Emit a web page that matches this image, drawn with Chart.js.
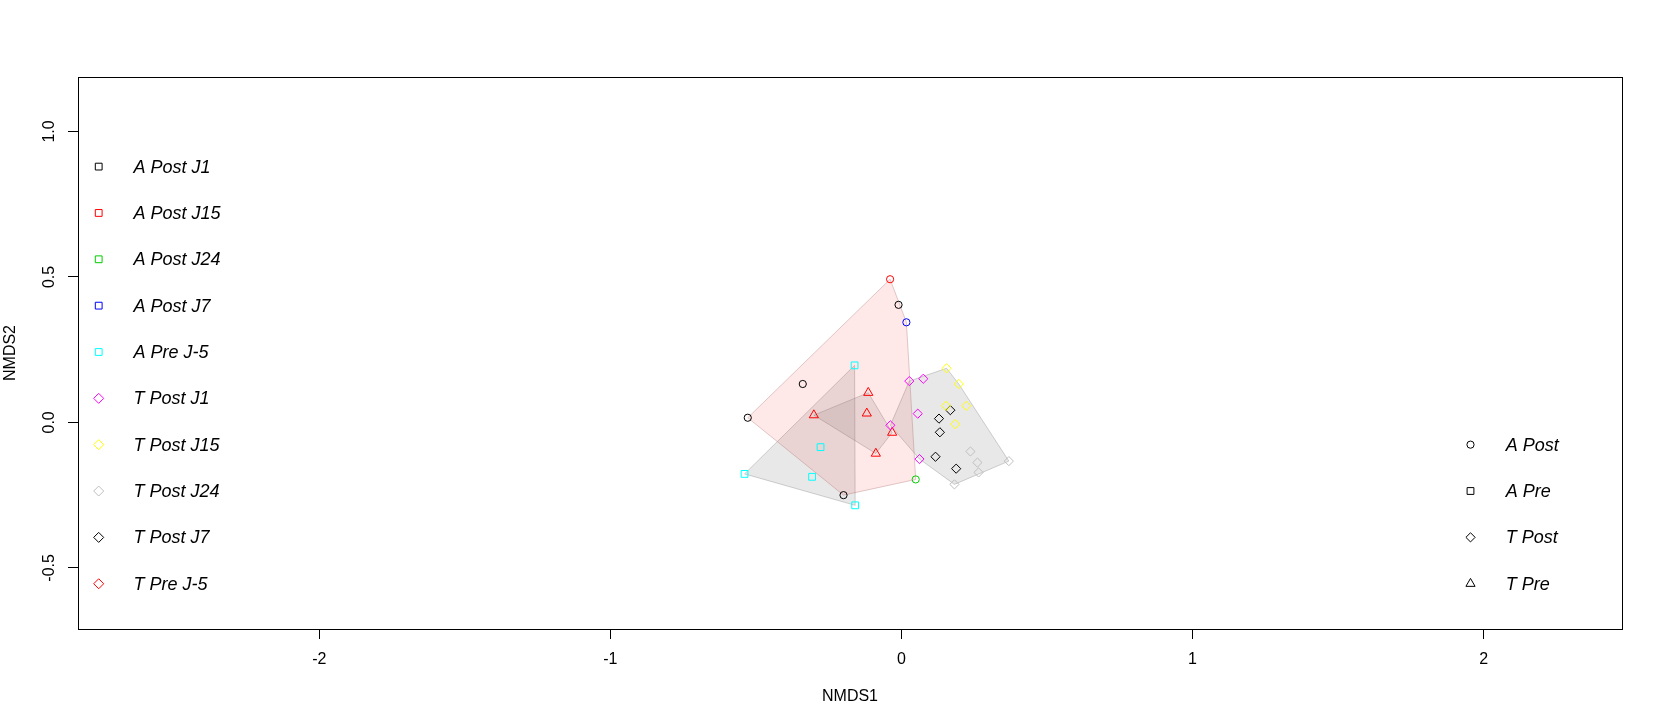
<!DOCTYPE html>
<html>
<head>
<meta charset="utf-8">
<script src="https://cdn.jsdelivr.net/npm/chart.js@4.4.1/dist/chart.umd.min.js"></script>
<style>
  html, body { margin: 0; padding: 0; background: #fff; }
</style>
</head>
<body>
<canvas id="nmdsChart" width="1664" height="728"></canvas>
<script>
// tick labels
const xTicks = [-2, -1, 0, 1, 2];
const yTicks = [-0.5, 0, 0.5, 1];

// A Post (circles)
const aPostJ1 = [[-0.010, 0.404], [-0.339, 0.132], [-0.528, 0.016], [-0.199, -0.250]];
const aPostJ15 = [[-0.039, 0.492]];
const aPostJ7 = [[0.017, 0.344]];
const aPostJ24 = [[0.049, -0.196]];
// A Pre (squares)
const aPreJ5 = [[-0.161, 0.196], [-0.278, -0.085], [-0.539, -0.177], [-0.307, -0.187], [-0.159, -0.285]];
// T Post (diamonds)
const tPostJ1 = [[0.027, 0.142], [0.075, 0.150], [0.056, 0.030], [-0.038, -0.010], [0.062, -0.126]];
const tPostJ15 = [[0.155, 0.186], [0.197, 0.132], [0.153, 0.057], [0.223, 0.057], [0.185, -0.006]];
const tPostJ24 = [[0.237, -0.100], [0.261, -0.138], [0.265, -0.172], [0.369, -0.133], [0.182, -0.213]];
const tPostJ7 = [[0.168, 0.042], [0.129, 0.013], [0.132, -0.034], [0.117, -0.118], [0.188, -0.159]];
// T Pre (triangles)
const tPreJ5 = [[-0.114, 0.102], [-0.301, 0.025], [-0.119, 0.031], [-0.032, -0.035], [-0.088, -0.107]];

const sampleLabels = ['A Post J1', 'A Post J15', 'A Post J24', 'A Post J7', 'A Pre J-5',
                      'T Post J1', 'T Post J15', 'T Post J24', 'T Post J7', 'T Pre J-5'];
const sampleColors = ['#000000', '#FF0000', '#00CD00', '#0000FF', '#00FFFF',
                      '#FF00FF', '#FFFF00', '#BEBEBE', '#000000', '#FF0000'];
const groupLabels = ['A Post', 'A Pre', 'T Post', 'T Pre'];
const groupShapes = ['circle', 'rect', 'rectRot', 'triangle'];
const shapeRadius = { circle: 3.6, rect: 4.8, rectRot: 4.6, triangle: 5.3 };

const toXY = arr => arr.map(p => ({ x: p[0], y: p[1] }));

// convex hull (monotone chain), closed
function hull(points) {
  const p = points.slice().sort((a, b) => a[0] - b[0] || a[1] - b[1]);
  const cross = (o, a, b) => (a[0] - o[0]) * (b[1] - o[1]) - (a[1] - o[1]) * (b[0] - o[0]);
  const lower = [], upper = [];
  for (const q of p) {
    while (lower.length >= 2 && cross(lower[lower.length - 2], lower[lower.length - 1], q) <= 0) lower.pop();
    lower.push(q);
  }
  for (let i = p.length - 1; i >= 0; i--) {
    const q = p[i];
    while (upper.length >= 2 && cross(upper[upper.length - 2], upper[upper.length - 1], q) <= 0) upper.pop();
    upper.push(q);
  }
  const h = lower.slice(0, -1).concat(upper.slice(0, -1));
  h.push(h[0]);
  return h;
}

const hullSets = [
  { pts: [].concat(aPostJ1, aPostJ15, aPostJ7, aPostJ24), fill: 'rgba(255,0,0,0.09)', line: 'rgba(170,110,110,0.35)' },
  { pts: aPreJ5, fill: 'rgba(128,128,128,0.18)', line: 'rgba(110,110,110,0.3)' },
  { pts: [].concat(tPostJ1, tPostJ15, tPostJ24, tPostJ7), fill: 'rgba(128,128,128,0.18)', line: 'rgba(110,110,110,0.3)' },
  { pts: tPreJ5, fill: 'rgba(128,128,128,0.18)', line: 'rgba(110,110,110,0.3)' }
];

const pointSets = [
  [aPostJ1, 0, 0], [aPostJ15, 1, 0], [aPostJ7, 3, 0], [aPostJ24, 2, 0],
  [aPreJ5, 4, 1],
  [tPostJ1, 5, 2], [tPostJ15, 6, 2], [tPostJ24, 7, 2], [tPostJ7, 8, 2],
  [tPreJ5, 9, 3]
];

const datasets = [];
hullSets.forEach(h => {
  datasets.push({
    data: toXY(hull(h.pts)),
    showLine: true,
    fill: 'shape',
    backgroundColor: h.fill,
    borderColor: h.line,
    borderWidth: 1,
    pointRadius: 0,
    tension: 0,
    order: 10
  });
});
pointSets.forEach(([arr, ci, gi]) => {
  const shape = groupShapes[gi];
  datasets.push({
    data: toXY(arr),
    pointStyle: shape,
    pointRadius: shapeRadius[shape],
    pointBorderWidth: 1,
    borderColor: sampleColors[ci],
    backgroundColor: 'rgba(0,0,0,0)',
    order: 0
  });
});

const FONT = '"Liberation Sans", Arial, sans-serif';

const rDecor = {
  id: 'rDecor',
  afterDraw(chart) {
    const { ctx, chartArea: a, scales } = chart;
    const drawPoint = Chart.helpers.drawPoint;
    ctx.save();
    // plot box
    ctx.strokeStyle = '#000';
    ctx.lineWidth = 1;
    ctx.strokeRect(a.left + 0.5, a.top + 0.5, a.right - a.left, a.bottom - a.top);

    // rotated y tick labels
    ctx.fillStyle = '#000';
    ctx.font = '16px ' + FONT;
    ctx.textAlign = 'center';
    ctx.textBaseline = 'middle';
    yTicks.forEach(v => {
      const y = scales.y.getPixelForValue(v);
      ctx.save();
      ctx.translate(50, y);
      ctx.rotate(-Math.PI / 2);
      ctx.fillText(v.toFixed(1), 0, 0);
      ctx.restore();
    });

    // axis titles
    ctx.fillText('NMDS1', (a.left + a.right) / 2, 697);
    ctx.save();
    ctx.translate(11, (a.top + a.bottom) / 2);
    ctx.rotate(-Math.PI / 2);
    ctx.fillText('NMDS2', 0, 0);
    ctx.restore();

    // legends
    ctx.font = 'italic 18px ' + FONT;
    ctx.textAlign = 'left';
    ctx.lineWidth = 1;
    const step = 46.35;
    sampleLabels.forEach((lab, i) => {
      const y = a.top + 89.6 + i * step;
      const shape = i < 5 ? 'rect' : 'rectRot';
      ctx.strokeStyle = sampleColors[i];
      ctx.fillStyle = 'rgba(0,0,0,0)';
      drawPoint(ctx, { pointStyle: shape, radius: shape === 'rect' ? 4.8 : 5, rotation: 0, borderWidth: 1 }, a.left + 20.7, y);
      ctx.fillStyle = '#000';
      ctx.fillText(lab, a.left + 55.5, y + 1);
    });
    groupLabels.forEach((lab, i) => {
      const y = a.bottom - 45.3 - (groupLabels.length - 1 - i) * step;
      const shape = groupShapes[i];
      ctx.strokeStyle = '#000';
      ctx.fillStyle = 'rgba(0,0,0,0)';
      drawPoint(ctx, { pointStyle: shape, radius: shapeRadius[shape], rotation: 0, borderWidth: 1 }, a.right - 151.5, y);
      ctx.fillStyle = '#000';
      ctx.fillText(lab, a.right - 116.3, y + 1);
    });
    ctx.restore();
  }
};

new Chart(document.getElementById('nmdsChart').getContext('2d'), {
  type: 'scatter',
  data: { datasets: datasets },
  options: {
    responsive: false,
    animation: false,
    layout: { padding: { top: 77, right: 42, left: 0, bottom: 0 } },
    plugins: { legend: { display: false }, tooltip: { enabled: false } },
    scales: {
      x: {
        type: 'linear',
        position: 'bottom',
        min: -2.829,
        max: 2.4755,
        afterBuildTicks: s => { s.ticks = xTicks.map(v => ({ value: v })); },
        afterFit: s => { s.height = 99; },
        grid: { drawOnChartArea: false, tickLength: 10, color: '#000', lineWidth: 1 },
        border: { display: false },
        ticks: {
          color: '#000',
          font: { family: FONT, size: 16 },
          padding: 11,
          maxRotation: 0,
          autoSkip: false,
          callback: v => String(v)
        }
      },
      y: {
        type: 'linear',
        position: 'left',
        min: -0.710,
        max: 1.187,
        afterBuildTicks: s => { s.ticks = yTicks.map(v => ({ value: v })); },
        afterFit: s => { s.width = 78; },
        grid: { drawOnChartArea: false, tickLength: 10, color: '#000', lineWidth: 1 },
        border: { display: false },
        ticks: { display: false }
      }
    }
  },
  plugins: [rDecor]
});
</script>
</body>
</html>
